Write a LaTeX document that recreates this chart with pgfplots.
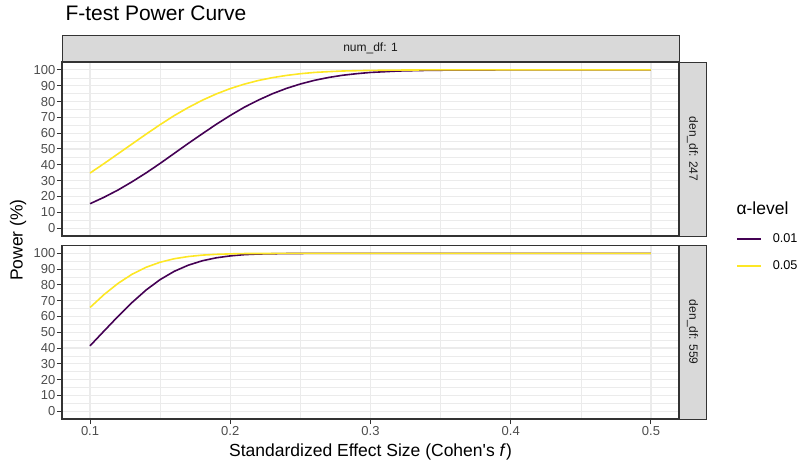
\documentclass[border=0pt]{standalone}
\usepackage{fontspec}
\setmainfont{Liberation Sans}
\usepackage{pgfplots}
\usepackage{pgfplotstable}
\pgfplotsset{compat=1.18}

\definecolor{vir1}{HTML}{440154}
\definecolor{vir2}{HTML}{FDE725}
\definecolor{grid92}{HTML}{EBEBEB}
\definecolor{gray20}{HTML}{333333}
\definecolor{gray30}{HTML}{4D4D4D}
\definecolor{gray10}{HTML}{1A1A1A}
\definecolor{gray85}{HTML}{D9D9D9}

% power (%) vs Cohen's f, num_df = 1
\pgfplotstableread{
f    p01   p05
0.10 15.4  34.8
0.11 19.5  40.8
0.12 24.1  47.0
0.13 29.3  53.2
0.14 34.9  59.4
0.15 40.9  65.4
0.16 47.2  71.1
0.17 53.5  76.2
0.18 59.6  80.8
0.19 65.6  84.8
0.20 71.2  88.2
0.21 76.4  91.0
0.22 80.9  93.3
0.23 84.9  95.1
0.24 88.3  96.5
0.25 91.1  97.6
0.26 93.4  98.4
0.27 95.2  98.9
0.28 96.6  99.3
0.29 97.6  99.5
0.30 98.4  99.7
0.32 99.3  99.9
0.34 99.7  100.0
0.36 99.9  100.0
0.40 100.0 100.0
0.45 100.0 100.0
0.50 100.0 100.0
}\denA

\pgfplotstableread{
f    p01   p05
0.10 41.4  65.7
0.11 50.8  73.9
0.12 60.1  81.0
0.13 68.9  86.8
0.14 76.8  91.2
0.15 83.4  94.4
0.16 88.6  96.6
0.17 92.5  98.0
0.18 95.3  98.9
0.19 97.2  99.4
0.20 98.4  99.7
0.21 99.2  99.9
0.22 99.6  99.9
0.24 99.9  100.0
0.26 100.0 100.0
0.30 100.0 100.0
0.40 100.0 100.0
0.50 100.0 100.0
}\denB

\pgfplotsset{panel/.style={
  scale only axis, width=617pt, anchor=south west,
  xmin=0.08, xmax=0.52, ymin=-5, ymax=105,
  xtick={0.1,0.2,0.3,0.4,0.5}, ytick={0,10,...,100},
  minor xtick={0.15,0.25,0.35,0.45}, minor ytick={5,15,...,95},
  grid=both,
  major grid style={color=grid92, line width=1.1pt},
  minor grid style={color=grid92, line width=0.55pt},
  axis line style={gray20, line width=1.1pt},
  tick align=outside, xtick pos=bottom, ytick pos=left,
  major tick length=5pt, minor tick length=0pt,
  tick style={gray20, line width=1pt},
  tick label style={font=\fontsize{13}{14}\selectfont, text=gray30},
  yticklabel style={inner sep=1.5pt},
  xticklabel style={inner sep=2.5pt},
  /pgf/number format/assume math mode=true,
  every axis plot/.append style={line width=1.6pt, no markers},
}}

\begin{document}
\begin{tikzpicture}
\useasboundingbox (0pt,0pt) rectangle (800pt,464pt);

% strips
\draw[fill=gray85, draw=gray20, line width=0.6pt] (62pt,402pt) rectangle (679pt,429pt);
\node[font=\fontsize{12}{13}\selectfont, text=gray10] at (370.5pt,415.5pt) {num\_df: 1};
\draw[fill=gray85, draw=gray20, line width=0.6pt] (679pt,228pt) rectangle (706pt,402pt);
\node[rotate=-90, font=\fontsize{12}{13}\selectfont, text=gray10] at (692.5pt,315pt) {den\_df: 247};
\draw[fill=gray85, draw=gray20, line width=0.6pt] (679pt,45pt) rectangle (706pt,218.5pt);
\node[rotate=-90, font=\fontsize{12}{13}\selectfont, text=gray10] at (692.5pt,131.75pt) {den\_df: 559};

\begin{axis}[panel, at={(62pt,228pt)}, height=174pt,
  xticklabels={}, xtick style={draw=none}]
\addplot[vir1] table[x=f, y=p01] {\denA};
\addplot[vir2] table[x=f, y=p05] {\denA};
\end{axis}

\begin{axis}[panel, at={(62pt,45pt)}, height=173.5pt,
  legend style={at={(axis description cs:1.092,1.07)}, anchor=north west,
    draw=none, fill=none, inner sep=0pt, row sep=16.8pt, column sep=11pt,
    font=\fontsize{12.7}{13}\selectfont, nodes={inner sep=0pt}},
  legend cell align=left,
  legend image code/.code={\draw[#1, line width=1.8pt] (0pt,0pt) -- (24pt,0pt);}]
\addplot[vir1] table[x=f, y=p01] {\denB};
\addlegendentry{0.01}
\addplot[vir2] table[x=f, y=p05] {\denB};
\addlegendentry{0.05}
\end{axis}

\node[anchor=base west, font=\fontsize{21}{23}\selectfont] at (62pt,443pt) {F-test Power Curve};
\node[rotate=90, font=\fontsize{17.5}{19}\selectfont] at (18pt,224pt) {Power (\%)};
\node[font=\fontsize{17.5}{19}\selectfont] at (370.5pt,12pt) {Standardized Effect Size (Cohen\textquotesingle s \textit{f})};
\node[anchor=base west, font=\fontsize{17.5}{19}\selectfont] at (733pt,249pt) {α-level};
\end{tikzpicture}
\end{document}
